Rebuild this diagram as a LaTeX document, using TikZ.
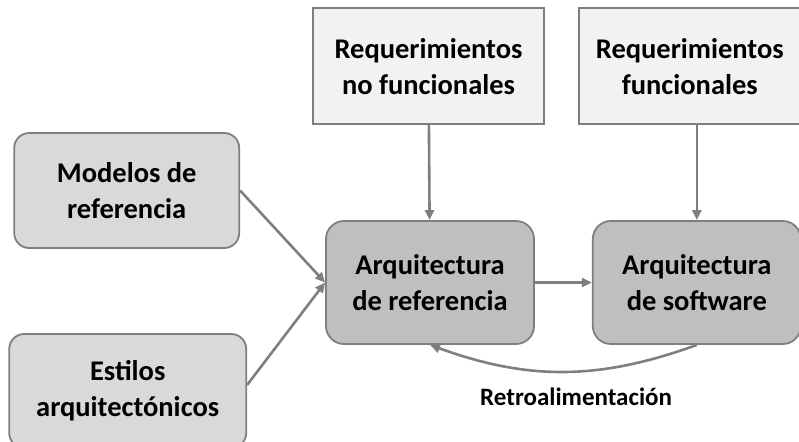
\documentclass[tikz,border=0pt]{standalone}
\usepackage{fontspec}
\setmainfont{Carlito}
\usepackage{tikz}
\usetikzlibrary{arrows.meta,positioning}
\definecolor{boxline}{HTML}{7F7F7F}
\definecolor{lightfill}{HTML}{F2F2F2}
\definecolor{midfill}{HTML}{D9D9D9}
\definecolor{darkfill}{HTML}{BFBFBF}

\begin{document}
\begin{tikzpicture}[
    x=1pt, y=-1pt,
    >={Triangle[length=10pt,width=9pt]},
    font=\fontsize{28.5}{36}\selectfont\bfseries,
    req/.style={
		rectangle,
		draw=boxline,
		line width=1.8pt,
		fill=lightfill,
		align=center,
		minimum height=116pt,
		inner sep=0pt
	},
	source/.style={
		rectangle,
		rounded corners=15pt,
		draw=boxline,
		line width=1.8pt,
		fill=midfill,
		align=center,
		minimum height=115pt,
		inner sep=0pt
	},
	arch/.style={
		rectangle,
		rounded corners=18pt,
		draw=boxline,
		line width=1.8pt,
		fill=darkfill,
		align=center,
		minimum width=208pt,
		minimum height=123pt,
		inner sep=0pt
	},
	link/.style={
	  draw=boxline,
	  line width=2.6pt,
	  ->
    }
  ]
\useasboundingbox (0,0) rectangle (799,441);

 \node [arch] (refarch) at (430,282.5) {Arquitectura\\de referencia};
 \node [arch, right=57pt of refarch] (softarch) {Arquitectura\\de software};

 \node [req, minimum width=231pt, above=95pt of refarch, xshift=-1.5pt] (reqnf) {Requerimientos\\no funcionales};
 \node [req, minimum width=221pt, above=95pt of softarch, xshift=-7pt] (reqf) {Requerimientos\\funcionales};

 \node [source, minimum width=225pt, left=85pt of refarch, yshift=92pt] (models) {Modelos de\\referencia};
 % box runs off the bottom edge
 \node [source, minimum width=237pt, minimum height=114pt, left=78pt of refarch, yshift=-108.5pt] (styles) {Estilos\\arquitectónicos};

 \draw [link] (reqnf) -- (refarch);
 \draw [link] (reqf.south -| softarch) -- (softarch);
 \draw [link] (models.east) -- (refarch.west);
 \draw [link] ([yshift=6pt]styles.east) -- (refarch.west);
 \draw [link] (refarch) -- (softarch);
 \draw [link] (softarch.south) to [bend left=20]
   node [pos=0.45, below=12pt, font=\fontsize{25}{30}\selectfont\bfseries] {Retroalimentación} (refarch.south);

\end{tikzpicture}
\end{document}
